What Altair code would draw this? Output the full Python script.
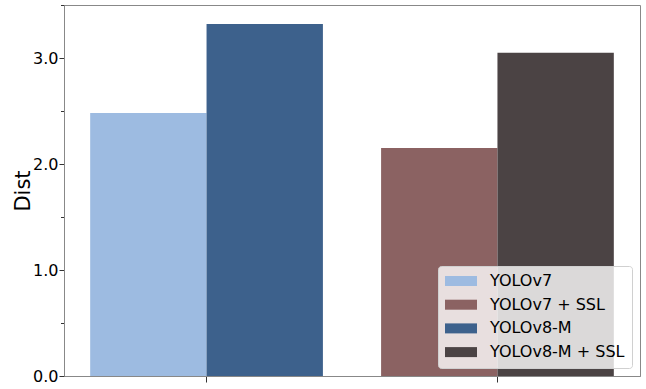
import altair as alt
import pandas as pd

groups = ["G1", "G1", "G2", "G2"]
variants = ["v7", "v8", "v7", "v8"]
labels = ["YOLOv7", "YOLOv8-M", "YOLOv7 + SSL", "YOLOv8-M + SSL"]
values = [2.48, 3.32, 2.15, 3.05]
legend_order = ["YOLOv7", "YOLOv7 + SSL", "YOLOv8-M", "YOLOv8-M + SSL"]
legend_colors = ["#9dbbe1", "#8b6262", "#3d618c", "#4b4344"]

df = pd.DataFrame({"group": groups, "variant": variants, "label": labels, "value": values})

font = "DejaVu Sans"

chart = alt.Chart(df).mark_bar().encode(
    x=alt.X("group:N", title=None,
            scale=alt.Scale(paddingInner=0.2, paddingOuter=0.09),
            axis=alt.Axis(labels=False, tickSize=6, tickColor="#333", domainColor="#888", ticks=True)),
    xOffset=alt.XOffset("variant:N", scale=alt.Scale(paddingInner=0, paddingOuter=0)),
    y=alt.Y("value:Q", title="Dist",
            scale=alt.Scale(domain=[0, 3.5], nice=False, zero=True),
            axis=alt.Axis(values=[0, 0.5, 1, 1.5, 2, 2.5, 3, 3.5],
                          labelExpr="datum.value % 1 == 0 ? format(datum.value, '.1f') : ''",
                          tickSize={"condition": {"test": "datum.value % 1 != 0", "value": 3.5}, "value": 5},
                          tickColor="#333", domainColor="#888", grid=False,
                          labelFontSize=16, labelFont=font, labelColor="#000",
                          titleFontSize=21, titleFont=font, titleFontWeight="normal",
                          titleColor="#000", titlePadding=-1, labelPadding=1)),
    color=alt.Color("label:N", scale=alt.Scale(domain=legend_order, range=legend_colors),
                    sort=legend_order,
                    legend=alt.Legend(title=None, orient="bottom-right", offset=8,
                                      labelFontSize=16, labelFont=font, labelColor="#000",
                                      symbolType="M-2,-0.625H2V0.625H-2Z", symbolSize=256,
                                      symbolStrokeWidth=0, symbolOpacity=1, symbolOffset=8,
                                      fillColor="rgba(255,255,255,0.8)", strokeColor="#d0d0d0",
                                      padding=7, rowPadding=7.7, cornerRadius=3,
                                      labelOffset=21)),
).properties(
    width=576, height=371,
    autosize=alt.AutoSizeParams(type="none"),
    padding={"left": 64, "top": 5, "right": 6, "bottom": 13},
).configure_view(stroke="#888", strokeWidth=1).configure_axis(labelFont=font, titleFont=font)

chart.save("out.html", embed_options={"renderer": "svg", "actions": False})
